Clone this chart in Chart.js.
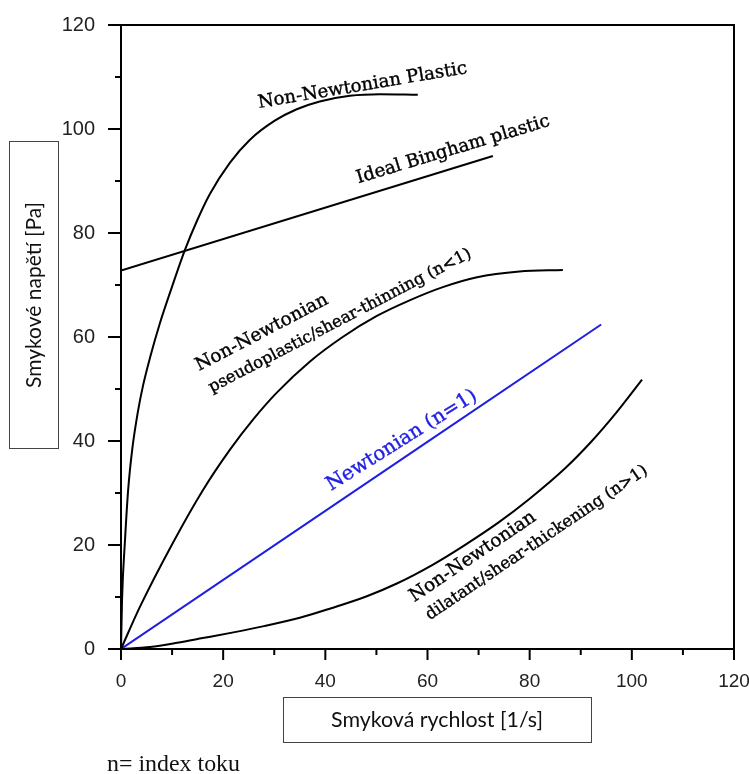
<!DOCTYPE html>
<html>
<head>
<meta charset="utf-8">
<script src="https://cdn.jsdelivr.net/npm/chart.js@4.4.0/dist/chart.umd.min.js"></script>
<style>
  html, body { margin: 0; padding: 0; background: #fff; }
  #wrap { position: relative; width: 749px; height: 774px; }
</style>
</head>
<body>
<div id="wrap"><canvas id="chart"></canvas></div>
<script>
// values (shear rate [1/s], shear stress [Pa])
const plasticX = [0, 0.2, 0.8, 1.4, 2.2, 3.3, 4.3, 5.7, 7.6, 9.9, 12.5, 14.9, 17.4, 21.3, 25.2, 30.1, 34.4, 38.9, 44.8, 50.7, 58.1];
const plasticY = [0, 9.4, 21.2, 30.6, 38.4, 45.6, 50.6, 56.1, 62.6, 69.4, 76.7, 82.4, 87.5, 93.5, 97.9, 101.6, 103.8, 105.3, 106.4, 106.7, 106.6];

const binghamX = [0, 72.8];
const binghamY = [72.8, 94.8];

const pseudoX = [0, 3.7, 10.2, 16, 21.3, 26, 30.5, 37, 43.4, 50, 56.6, 63, 69.7, 78, 86.5];
const pseudoY = [0, 8.1, 20.5, 30.5, 38.3, 44.3, 49.3, 55.3, 60, 64, 67.1, 69.6, 71.5, 72.6, 72.9];

const newtonX = [0, 94];
const newtonY = [0, 62.4];

const dilatX = [0, 5.7, 11, 16, 22, 28, 35, 41, 48, 54, 61, 67, 74, 80, 87, 92, 97, 102];
const dilatY = [0, 0.4, 1.2, 2.1, 3.2, 4.4, 6, 7.8, 10.1, 12.6, 16.2, 19.8, 24.4, 28.9, 34.8, 39.8, 45.5, 51.8];

const xTicks = [0, 20, 40, 60, 80, 100, 120];
const yTicks = [0, 20, 40, 60, 80, 100, 120];

const blue = '#1f1fe0';

// text along the curves: centre in data units, angle in degrees, length in px
const curveLabels = [
    { text: 'Non-Newtonian Plastic', x: 47.3, y: 108.3, angle: -9.5, len: 212 },
    { text: 'Ideal Bingham plastic', x: 65, y: 96, angle: -16.7, len: 201 },
    { text: 'Non-Newtonian', x: 27.6, y: 60.8, angle: -27.6, len: 147 },
    { text: 'pseudoplastic/shear-thinning (n<1)', x: 42.9, y: 63.1, angle: -27.5, len: 294 },
    { text: 'Newtonian (n=1)', x: 55, y: 40.1, angle: -32, len: 174, color: blue },
    { text: 'Non-Newtonian', x: 68.9, y: 17.7, angle: -34, len: 148 },
    { text: 'dilatant/shear-thickening (n>1)', x: 81.4, y: 20.4, angle: -34, len: 264 }
];

function points(xs, ys) {
    return xs.map((x, i) => ({ x: x, y: ys[i] }));
}

function fitFont(ctx, text, family, width) {
    ctx.font = '20px "' + family + '"';
    return 20 * width / ctx.measureText(text).width;
}

function curve(xs, ys, color) {
    return {
        data: points(xs, ys),
        borderColor: color,
        borderWidth: 2,
        pointRadius: 0,
        showLine: true,
        fill: false,
        cubicInterpolationMode: 'monotone'
    };
}

const decor = {
    id: 'decor',
    afterDraw(chart) {
        const { ctx, chartArea: a, scales: { x, y } } = chart;
        ctx.save();

        // frame and tick marks
        ctx.strokeStyle = '#000';
        ctx.lineWidth = 2;
        ctx.strokeRect(a.left, a.top, a.right - a.left, a.bottom - a.top);
        ctx.beginPath();
        x.ticks.forEach(t => {
            const px = x.getPixelForValue(t.value);
            const len = xTicks.includes(t.value) ? 11 : 6;
            ctx.moveTo(px, a.bottom);
            ctx.lineTo(px, a.bottom + len);
        });
        y.ticks.forEach(t => {
            const py = y.getPixelForValue(t.value);
            const len = yTicks.includes(t.value) ? 13 : 6;
            ctx.moveTo(a.left, py);
            ctx.lineTo(a.left - len, py);
        });
        ctx.stroke();

        // curve labels
        ctx.textAlign = 'center';
        ctx.textBaseline = 'middle';
        ctx.lineWidth = 0.4;
        curveLabels.forEach(l => {
            const size = fitFont(ctx, l.text, 'DejaVu Serif', l.len);
            ctx.save();
            ctx.translate(x.getPixelForValue(l.x), y.getPixelForValue(l.y));
            ctx.rotate(l.angle * Math.PI / 180);
            ctx.font = size.toFixed(2) + 'px "DejaVu Serif"';
            ctx.fillStyle = l.color || '#000';
            ctx.strokeStyle = l.color || '#000';
            ctx.fillText(l.text, 0, 0);
            ctx.strokeText(l.text, 0, 0);
            ctx.restore();
        });

        // boxed axis titles
        ctx.strokeStyle = '#444';
        ctx.lineWidth = 1;
        ctx.fillStyle = '#111';
        ctx.strokeRect(9.5, 141.5, 49, 307);
        ctx.strokeRect(283.5, 697.5, 308, 45);

        const yTitle = 'Smykové napětí [Pa]';
        ctx.save();
        ctx.translate(34, 295);
        ctx.rotate(-Math.PI / 2);
        ctx.font = fitFont(ctx, yTitle, 'Lato', 186).toFixed(2) + 'px "Lato"';
        ctx.fillText(yTitle, 0, 0);
        ctx.restore();

        const xTitle = 'Smyková rychlost [1/s]';
        ctx.font = fitFont(ctx, xTitle, 'Lato', 212).toFixed(2) + 'px "Lato"';
        ctx.fillText(xTitle, 437, 720);

        const note = 'n= index toku';
        ctx.textAlign = 'left';
        ctx.textBaseline = 'alphabetic';
        ctx.font = fitFont(ctx, note, 'Liberation Serif', 133).toFixed(2) + 'px "Liberation Serif"';
        ctx.fillText(note, 107, 771);

        ctx.restore();
    }
};

new Chart('chart', {
    type: 'scatter',
    data: {
        datasets: [
            curve(plasticX, plasticY, '#000'),
            curve(binghamX, binghamY, '#000'),
            curve(pseudoX, pseudoY, '#000'),
            curve(newtonX, newtonY, blue),
            curve(dilatX, dilatY, '#000')
        ]
    },
    options: {
        responsive: true,
        maintainAspectRatio: false,
        animation: false,
        layout: { padding: { top: 25, right: 15, left: 0, bottom: 0 } },
        plugins: { legend: { display: false }, tooltip: { enabled: false } },
        scales: {
            x: {
                type: 'linear',
                min: 0,
                max: 120,
                grid: { display: false, drawTicks: false },
                border: { display: false },
                ticks: {
                    stepSize: 10,
                    autoSkip: false,
                    maxRotation: 0,
                    padding: 21,
                    color: '#222',
                    font: { family: 'Liberation Sans', size: 19 },
                    callback: v => xTicks.includes(v) ? v : ''
                },
                afterFit(s) {
                    s.height = 125;
                    s.paddingLeft = 0;
                    s.paddingRight = 0;
                }
            },
            y: {
                min: 0,
                max: 120,
                grid: { display: false, drawTicks: false },
                border: { display: false },
                ticks: {
                    stepSize: 10,
                    autoSkip: false,
                    padding: 26,
                    color: '#222',
                    font: { family: 'Liberation Sans', size: 20 },
                    callback: v => yTicks.includes(v) ? v : ''
                },
                afterFit(s) {
                    s.width = 121;
                    s.paddingTop = 0;
                    s.paddingBottom = 0;
                }
            }
        }
    },
    plugins: [decor]
});
</script>
</body>
</html>
